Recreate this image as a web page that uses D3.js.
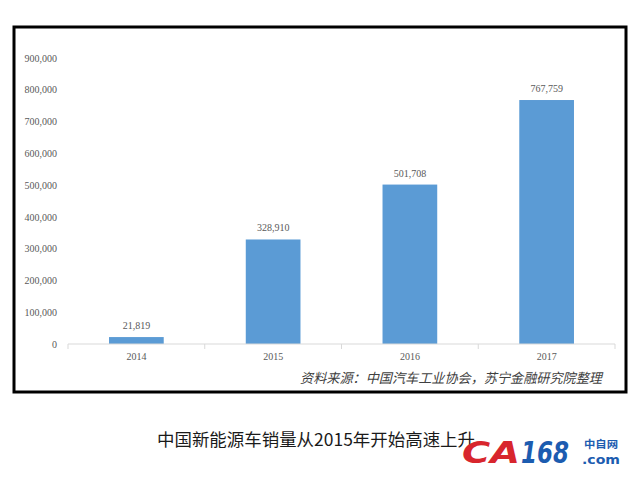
<!DOCTYPE html>
<html><head><meta charset="utf-8">
<script src="https://cdn.jsdelivr.net/npm/d3@7"></script>
<style>body{margin:0;background:#fff;}svg{display:block;}</style>
</head><body>
<svg id="c" width="640" height="480"></svg>
<script>
const categories = ["2014","2015","2016","2017"];
const values = [21819, 328910, 501708, 767759];
const yTicks = [0,100000,200000,300000,400000,500000,600000,700000,800000,900000];
const sourceText = "资料来源：中国汽车工业协会，苏宁金融研究院整理";
const captionText = "中国新能源车销量从2015年开始高速上升";

const svg = d3.select("#c");
svg.append("rect").attr("width",640).attr("height",480).attr("fill","#fff");
// frame
svg.append("rect").attr("x",14).attr("y",27).attr("width",612).attr("height",365)
  .attr("fill","#fff").attr("stroke","#000").attr("stroke-width",3);

const x = d3.scaleBand().domain(categories).range([68,615]).paddingInner(0.6).paddingOuter(0.3);
const xb = d3.scaleBand().domain(categories).range([68,615]);
const y = d3.scaleLinear().domain([0,900000]).range([344,58]);
const fmt = d3.format(",");

// y labels
const yAxis = d3.axisLeft(y).tickValues(yTicks).tickFormat(fmt).tickSize(0).tickPadding(0);
const gy = svg.append("g").attr("transform","translate(57,0)").call(yAxis);
gy.select(".domain").remove();
gy.selectAll("text").attr("fill","#595959").style("font-family","'Liberation Serif','DejaVu Serif',serif").style("font-size","10px");

// bars
svg.selectAll("rect.bar").data(values).join("rect").attr("class","bar")
  .attr("x",(d,i)=>x(categories[i])).attr("width",x.bandwidth())
  .attr("y",d=>y(d)).attr("height",d=>y(0)-y(d)).attr("fill","#5b9bd5");

// x axis
const xAxis = d3.axisBottom(xb).tickSize(0).tickPadding(9);
const gx = svg.append("g").attr("transform","translate(0,344)").call(xAxis);
gx.select(".domain").attr("stroke","#d9d9d9").attr("d","M68,0H615");
gx.selectAll("text").attr("fill","#595959").style("font-family","'Liberation Serif','DejaVu Serif',serif").style("font-size","10px");
// boundary ticks
const bounds = categories.map(c=>xb(c)).concat([615]);
gx.selectAll("line.bt").data(bounds).join("line").attr("class","bt")
  .attr("x1",d=>d).attr("x2",d=>d).attr("y1",0).attr("y2",5).attr("stroke","#d9d9d9");

// value labels
svg.selectAll("text.val").data(values).join("text").attr("class","val")
  .attr("x",(d,i)=>x(categories[i])+x.bandwidth()/2).attr("y",d=>y(d)-8)
  .attr("text-anchor","middle").attr("fill","#595959")
  .style("font-family","'Liberation Serif','DejaVu Serif',serif").style("font-size","10px")
  .text(d=>fmt(d));

// source
svg.append("text").attr("x",300).attr("y",383)
  .attr("fill","#404040").style("font-family","'Noto Sans CJK SC',sans-serif")
  .style("font-size","13.5px").style("font-style","italic")
  .attr("textLength",302).attr("lengthAdjust","spacingAndGlyphs").text(sourceText);

// caption
svg.append("text").attr("x",157).attr("y",446)
  .attr("fill","#1a1a1a").style("font-family","'Noto Sans CJK SC',sans-serif")
  .style("font-size","17px").attr("textLength",318).attr("lengthAdjust","spacingAndGlyphs").text(captionText);

// watermark logo
const logo = svg.append("g");
logo.append("text").attr("x",462).attr("y",463).attr("fill","#d8262d")
  .style("font-family","'DejaVu Sans',sans-serif").style("font-weight","bold").style("font-style","italic")
  .style("font-size","30px").attr("textLength",58).attr("lengthAdjust","spacingAndGlyphs").text("CA");
logo.append("text").attr("x",521).attr("y",463).attr("fill","#1c5cb0")
  .style("font-family","'DejaVu Sans',sans-serif").style("font-weight","bold").style("font-style","italic")
  .style("font-size","30px").attr("textLength",48).attr("lengthAdjust","spacingAndGlyphs").text("168");
logo.append("text").attr("x",582).attr("y",464).attr("fill","#1c5cb0")
  .style("font-family","'DejaVu Sans',sans-serif").style("font-weight","bold")
  .style("font-size","12px").attr("textLength",38).attr("lengthAdjust","spacingAndGlyphs").text(".com");
logo.append("text").attr("x",584).attr("y",448).attr("fill","#1c5cb0")
  .style("font-family","'Noto Sans CJK SC',sans-serif").style("font-weight","bold")
  .style("font-size","10px").attr("textLength",34).attr("lengthAdjust","spacingAndGlyphs").text("中自网");
</script>
</body></html>
